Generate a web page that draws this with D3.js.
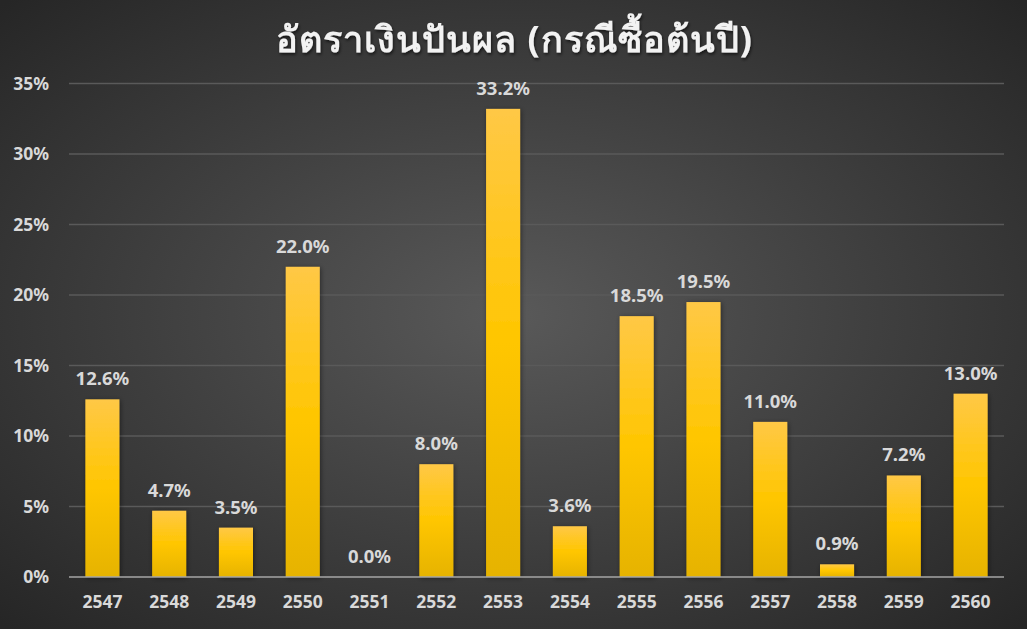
<!DOCTYPE html>
<html><head><meta charset="utf-8">
<script src="https://cdn.jsdelivr.net/npm/d3@7/dist/d3.min.js"></script>
<style>html,body{margin:0;padding:0;background:#333;}svg{display:block;}</style>
</head><body>
<script>
const categories = ["2547","2548","2549","2550","2551","2552","2553","2554","2555","2556","2557","2558","2559","2560"];
const values = [12.6,4.7,3.5,22.0,0.0,8.0,33.2,3.6,18.5,19.5,11.0,0.9,7.2,13.0];
const yTicks = [0,5,10,15,20,25,30,35];
const title = "อัตราเงินปันผล (กรณีซื้อต้นปี)";

const W = 1027, H = 629;
const m = {left:69, right:23, top:83.5, bottom:52};
const svg = d3.select("body").append("svg").attr("width",W).attr("height",H);
const defs = svg.append("defs");
const rg = defs.append("radialGradient").attr("id","bg").attr("cx","50%").attr("cy","50%").attr("r","70%");
rg.append("stop").attr("offset","0%").attr("stop-color","#595959");
rg.append("stop").attr("offset","100%").attr("stop-color","#262626");
const lg = defs.append("linearGradient").attr("id","bar").attr("x1",0).attr("y1",0).attr("x2",0).attr("y2",1);
lg.append("stop").attr("offset","0%").attr("stop-color","#ffc846");
lg.append("stop").attr("offset","50%").attr("stop-color","#ffc600");
lg.append("stop").attr("offset","100%").attr("stop-color","#e6b300");
const f = defs.append("filter").attr("id","sh").attr("x","-30%").attr("y","-10%").attr("width","160%").attr("height","120%");
f.append("feDropShadow").attr("dx",1).attr("dy",1).attr("stdDeviation",2.5).attr("flood-color","#000").attr("flood-opacity",0.45);
const ft = defs.append("filter").attr("id","tsh");
ft.append("feDropShadow").attr("dx",1).attr("dy",2).attr("stdDeviation",1.5).attr("flood-color","#000").attr("flood-opacity",0.6);

svg.append("rect").attr("width",W).attr("height",H).attr("fill","url(#bg)");

const x = d3.scaleBand().domain(categories).range([m.left, W-m.right]).paddingInner(0.49).paddingOuter(0.245);
const y = d3.scaleLinear().domain([0,35]).range([H-m.bottom, m.top]);

const font = "'Segoe UI','Noto Sans','DejaVu Sans',sans-serif";

// gridlines
svg.append("g").selectAll("line").data(yTicks.filter(d=>d>0)).join("line")
  .attr("x1",m.left).attr("x2",W-m.right).attr("y1",d=>y(d)).attr("y2",d=>y(d))
  .attr("stroke","#5a5a5a").attr("stroke-width",1.3);

// y axis labels
const yAxis = d3.axisLeft(y).tickValues(yTicks).tickFormat(d=>d+"%").tickSize(0).tickPadding(20);
const ya = svg.append("g").attr("transform",`translate(${m.left},0)`).call(yAxis);
ya.select(".domain").remove();
ya.selectAll("text").attr("fill","#d9d9d9").style("font-family",font).style("font-size","17.5px").style("font-weight","bold");

// bars
svg.append("g").selectAll("rect").data(values).join("rect")
  .attr("x",(d,i)=>x(categories[i])).attr("width",x.bandwidth())
  .attr("y",d=>y(d)).attr("height",d=>y(0)-y(d))
  .attr("fill","url(#bar)").attr("filter","url(#sh)");

// baseline
svg.append("line").attr("x1",m.left).attr("x2",W-m.right).attr("y1",y(0)).attr("y2",y(0))
  .attr("stroke","#a6a6a6").attr("stroke-width",1.5);

// x axis labels
const xAxis = d3.axisBottom(x).tickSize(0).tickPadding(19);
const xa = svg.append("g").attr("transform",`translate(0,${y(0)})`).call(xAxis);
xa.select(".domain").remove();
xa.selectAll("text").attr("fill","#d9d9d9").style("font-family",font).style("font-size","17.5px").style("font-weight","bold");

// value labels
svg.append("g").selectAll("text").data(values).join("text")
  .attr("x",(d,i)=>x(categories[i])+x.bandwidth()/2).attr("y",d=>y(d)-14)
  .attr("text-anchor","middle").attr("fill","#d9d9d9")
  .style("font-family",font).style("font-size","18.5px").style("font-weight","bold")
  .text(d=>d.toFixed(1)+"%");

// title
svg.append("text").attr("x",W/2+1).attr("y",52).attr("text-anchor","middle")
  .attr("fill","#f2f2f2").attr("filter","url(#tsh)")
  .style("font-family",font).style("font-size","36px").style("font-weight","bold")
  .style("letter-spacing","1px")
  .text(title);
</script>
</body></html>
